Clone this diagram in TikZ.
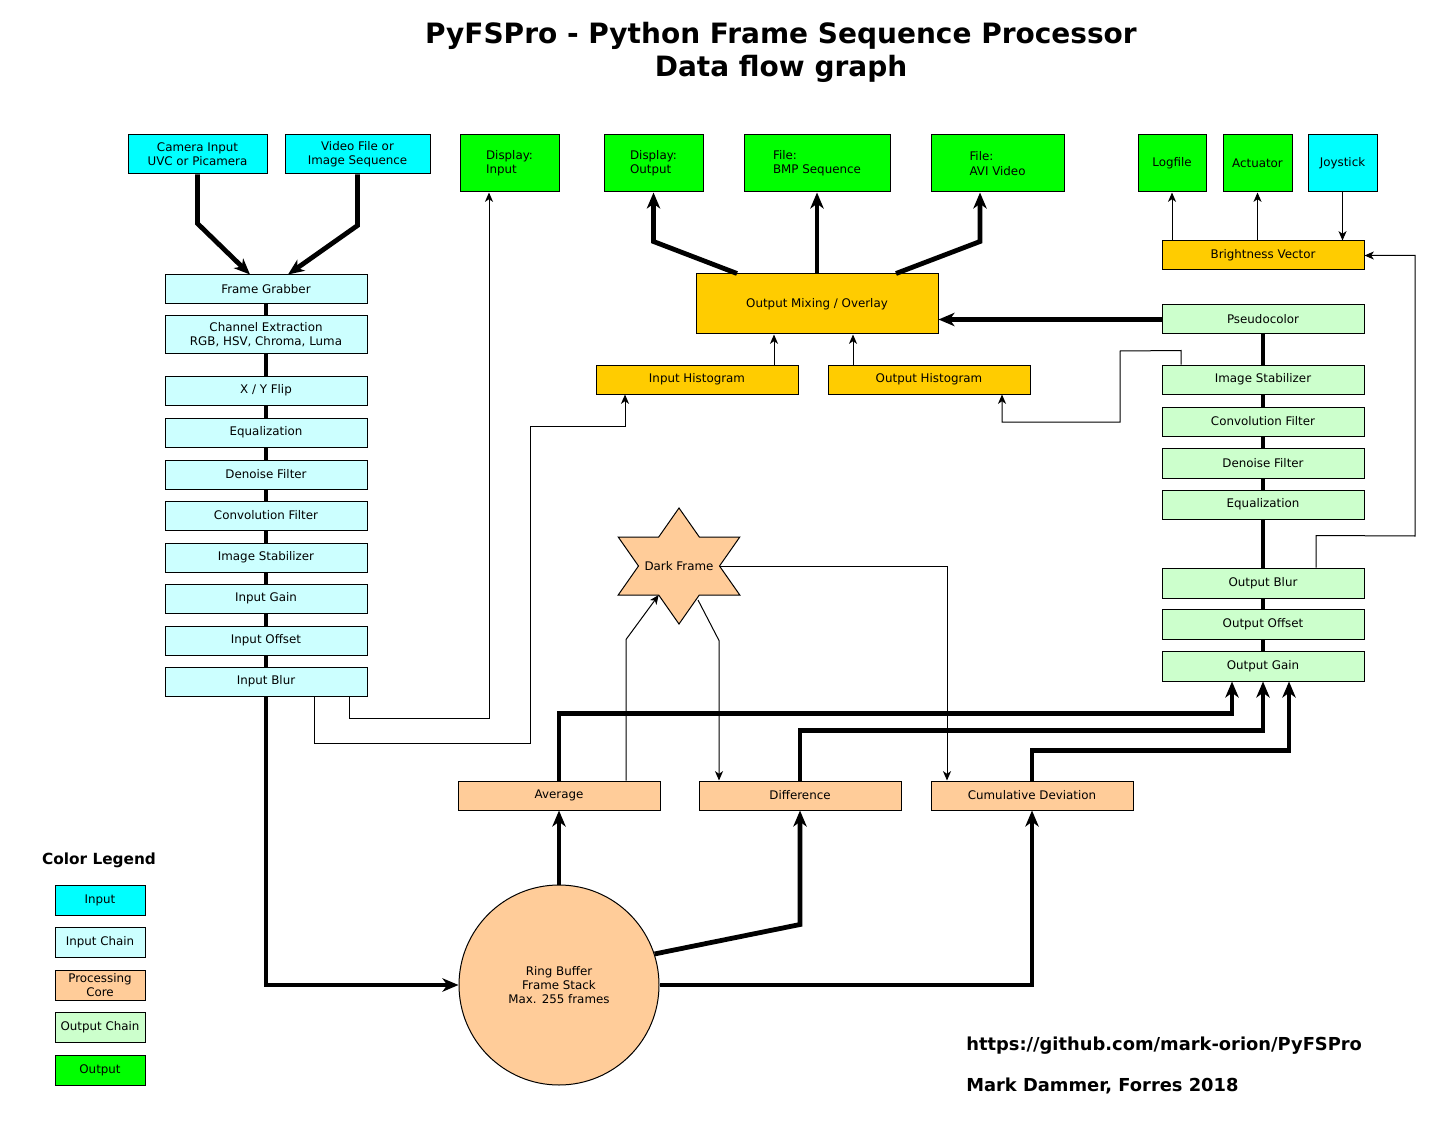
\documentclass[tikz,border=0pt]{standalone}
\usepackage{fontspec}
\setmainfont{DejaVu Sans}
\usetikzlibrary{arrows.meta,calc}
\definecolor{cin}{HTML}{00FFFF}
\definecolor{cinch}{HTML}{CCFFFF}
\definecolor{ccore}{HTML}{FFCC99}
\definecolor{coutch}{HTML}{CCFFCC}
\definecolor{cout}{HTML}{00FF00}
\definecolor{cgold}{HTML}{FFCC00}
\newcommand\mkbox[7]{\node[bx,#6,minimum width={(#4-#2)*0.75pt},minimum height={(#5-#3)*0.75pt}] (#1) at ({(#2+#4)/2},{(#3+#5)/2}) {#7};}
\begin{document}
\begin{tikzpicture}[x=0.75pt,y=-0.75pt,
  bx/.style={draw,line width=0.75pt,inner sep=1pt,font=\fontsize{8.9}{10.7}\selectfont,align=center},
  inp/.style={fill=cin},
  inch/.style={fill=cinch},
  core/.style={fill=ccore},
  outch/.style={fill=coutch},
  outp/.style={fill=cout},
  gold/.style={fill=cgold},
  lft/.style={align=left},
  thk/.style={line width=3.6pt},
  thkarr/.style={thk,-{Stealth[length=12pt,width=10pt,inset=3.5pt]}},
  thn/.style={line width=0.75pt},
  thnarr/.style={thn,-{Stealth[length=7pt,width=6pt,inset=2pt]}},
  ttl/.style={font=\bfseries\fontsize{21}{25}\selectfont,anchor=base,inner sep=0},
  foot/.style={font=\bfseries\fontsize{13.4}{16}\selectfont,anchor=base west,inner sep=0}]
\useasboundingbox (0,0) rectangle (1430,1137);
\fill[white] (0,0) rectangle (1430,1137);

% titles
\node[ttl] (t1) at (781,44) {PyFSPro - Python Frame Sequence Processor};
\node[ttl] (t2) at (781,77) {Data flow graph};

% top row
\mkbox{cam}{128}{135}{267}{174}{inp}{Camera Input\\UVC or Picamera}
\mkbox{vid}{285}{135}{430}{174}{inp}{Video File or\\Image Sequence}
\mkbox{dispin}{460}{135}{559}{192}{outp,lft}{Display:\\Input}
\mkbox{dispout}{604}{135}{703}{192}{outp,lft}{Display:\\Output}
\mkbox{bmp}{744}{135}{890}{192}{outp,lft}{File:\\BMP Sequence}
\mkbox{avi}{931}{135}{1064}{192}{outp,lft}{File:\\AVI Video}
\mkbox{log}{1138}{135}{1206}{192}{outp}{Logfile}
\mkbox{act}{1223}{135}{1292}{192}{outp}{Actuator}
\mkbox{joy}{1308}{135}{1377}{192}{inp}{Joystick}

% input chain
\mkbox{fg}{165}{275}{367}{304}{inch}{Frame Grabber}
\mkbox{ce}{165}{316}{367}{353}{inch}{Channel Extraction\\RGB, HSV, Chroma, Luma}
\mkbox{xy}{165}{376}{367}{405}{inch}{X / Y Flip}
\mkbox{eq}{165}{418}{367}{447}{inch}{Equalization}
\mkbox{dn}{165}{460}{367}{489}{inch}{Denoise Filter}
\mkbox{cv}{165}{501}{367}{530}{inch}{Convolution Filter}
\mkbox{is}{165}{543}{367}{572}{inch}{Image Stabilizer}
\mkbox{ig}{165}{584}{367}{613}{inch}{Input Gain}
\mkbox{io}{165}{626}{367}{655}{inch}{Input Offset}
\mkbox{ib}{165}{667}{367}{696}{inch}{Input Blur}

% middle
\mkbox{mix}{696}{274}{938}{334}{gold}{Output Mixing / Overlay}
\mkbox{ih}{596}{365}{798}{394}{gold}{Input Histogram}
\mkbox{oh}{828}{365}{1030}{394}{gold}{Output Histogram}

% output chain
\mkbox{bv}{1162}{241}{1364}{270}{gold}{Brightness Vector}
\mkbox{pc}{1162}{305}{1364}{334}{outch}{Pseudocolor}
\mkbox{ois}{1162}{365}{1364}{394}{outch}{Image Stabilizer}
\mkbox{ocv}{1162}{407}{1364}{436}{outch}{Convolution Filter}
\mkbox{odn}{1162}{448}{1364}{478}{outch}{Denoise Filter}
\mkbox{oeq}{1162}{490}{1364}{519}{outch}{Equalization}
\mkbox{ob}{1162}{568}{1364}{598}{outch}{Output Blur}
\mkbox{oo}{1162}{609}{1364}{639}{outch}{Output Offset}
\mkbox{og}{1162}{651}{1364}{681}{outch}{Output Gain}

% processing core
\mkbox{avg}{458}{781}{660}{810}{core}{Average}
\mkbox{diff}{699}{781}{901}{810}{core}{Difference}
\mkbox{cum}{931}{781}{1133}{810}{core}{Cumulative Deviation}
\node[bx,core,circle,minimum size=150pt,inner sep=0] (rb) at (559,985) {Ring Buffer\\Frame Stack\\Max. 255 frames};

% dark frame star
\draw[line width=0.75pt,fill=ccore] (679,508) -- (658.7,537) -- (618.2,537) -- (638.5,566) -- (618.2,595) -- (658.7,595) -- (679,624) -- (699.3,595) -- (739.8,595) -- (719.5,566) -- (739.8,537) -- (699.3,537) -- cycle;
\node[font=\fontsize{8.9}{10.7}\selectfont] (df) at (679,566) {Dark Frame};
\coordinate (dfa) at (658.7,595);
\coordinate (dfb) at (698,600);
\coordinate (dfc) at (720,566);

% legend
\node[font=\bfseries\fontsize{11.5}{14}\selectfont,anchor=base,inner sep=0] (legt) at (99,864) {Color Legend};
\mkbox{l1}{55}{885}{145}{915}{inp}{Input}
\mkbox{l2}{55}{927}{145}{957}{inch}{Input Chain}
\mkbox{l3}{55}{970}{145}{1000}{core}{Processing\\Core}
\mkbox{l4}{55}{1012}{145}{1042}{outch}{Output Chain}
\mkbox{l5}{55}{1055}{145}{1085}{outp}{Output}

% footer
\node[foot] (url) at (966,1050) {https://github.com/mark-orion/PyFSPro};
\node[foot] (auth) at (966,1091) {Mark Dammer, Forres 2018};

% thick chain lines
\foreach \a/\b in {fg/ce,ce/xy,xy/eq,eq/dn,dn/cv,cv/is,is/ig,ig/io,io/ib,pc/ois,ois/ocv,ocv/odn,odn/oeq,oeq/ob,ob/oo,oo/og}
  \draw[thk] (\a.south) -- (\b.north);

% thick arrows
\draw[thkarr] (cam.south) -- ++(0,49) -- ($(fg.north)+(-16,0)$);
\draw[thkarr] (vid.south) -- ++(0,51) -- ($(fg.north)+(22,0)$);
\draw[thkarr] (ib.south) |- (rb.west);
\draw[thkarr] ($(mix.north)+(-80,0)$) -- ($(dispout.south)+(0,49)$) -- (dispout.south);
\draw[thkarr] (mix.north) -- (bmp.south);
\draw[thkarr] ($(mix.north)+(79,0)$) -- ($(avi.south)+(-17.5,49)$) -- ($(avi.south)+(-17.5,0)$);
\draw[thkarr] (pc.west) -- (pc.west -| mix.east);
\draw[thkarr] (rb.north) -- (avg.south);
\draw[thkarr] (rb.18) -- ($(diff.south)+(0,114)$) -- (diff.south);
\draw[thkarr] (rb.east) -| (cum.south);
\draw[thkarr] (avg.north) -- ++(0,-67) -| ($(og.south)+(-31,0)$);
\draw[thkarr] (diff.north) -- ++(0,-50) -| (og.south);
\draw[thkarr] (cum.north) -- ++(0,-30) -| ($(og.south)+(26,0)$);

% thin arrows
\draw[thnarr] ($(ib.south)+(83,0)$) -- ++(0,22) -| ($(dispin.south)+(-20.5,0)$);
\draw[thnarr] ($(ib.south)+(48,0)$) -- ++(0,47) -- ++(216,0) -- (530,426) -| ($(ih.south)+(-72,0)$);
\draw[thnarr] ($(ih.north)+(77,0)$) -- ($(mix.south)+(-43,0)$);
\draw[thnarr] ($(oh.north)+(-76,0)$) -- ($(mix.south)+(36,0)$);
\draw[thnarr] ($(ois.north)+(-82,0)$) -- ++(0,-14) -- (1120,351) -- (1120,422) -| ($(oh.south)+(73,0)$);
\draw[thnarr] (bv.north -| log.south) -- (log.south);
\draw[thnarr] (bv.north -| act.south) -- (act.south);
\draw[thnarr] (joy.south) -- (joy.south |- bv.north);
\draw[thnarr] ($(ob.north)+(53,0)$) -- ++(0,-32) -- (1415,536) |- (bv.east);
\draw[thnarr] ($(avg.north)+(67,0)$) -- ++(0,-141) -- (dfa);
\draw[thnarr] (dfb) -- ($(diff.north)+(-81,-140)$) -- ($(diff.north)+(-81,0)$);
\draw[thnarr] (dfc) -| ($(cum.north)+(-85,0)$);
\end{tikzpicture}
\end{document}
